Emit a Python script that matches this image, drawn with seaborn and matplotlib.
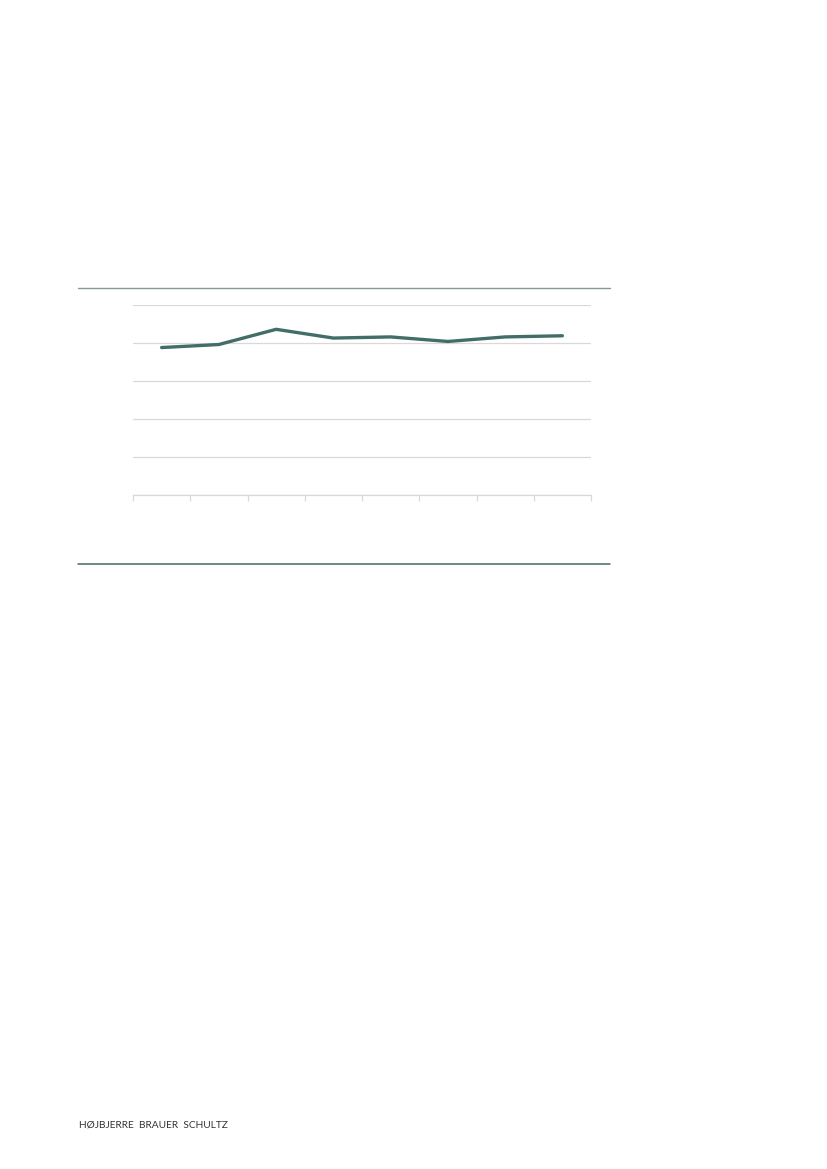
import matplotlib
matplotlib.use("Agg")
import matplotlib.pyplot as plt
import seaborn as sns
import pandas as pd
from matplotlib.lines import Line2D

# ========== data (no labels shown) ==========
periods = ["1", "2", "3", "4", "5", "6", "7", "8"]
values = [3.88, 3.96, 4.36, 4.13, 4.16, 4.04, 4.16, 4.19]
y_ticks = [0, 1, 2, 3, 4, 5]

df = pd.DataFrame({"period": periods, "value": values})

sns.set_theme(style="white")
plt.rcParams["font.family"] = ["Lato", "DejaVu Sans"]

LINE_COL = "#436e68"
GRID_COL = "#d9d9d9"

fig = plt.figure(figsize=(8.27, 11.69), dpi=100)
W, H = 827, 1169

# chart area in pixels: x 133..591, y 305..495
ax = fig.add_axes([133 / W, 1 - 495 / H, (591 - 133) / W, (495 - 305) / H])

sns.lineplot(data=df, x="period", y="value", ax=ax, color=LINE_COL,
             linewidth=2.4, sort=False)

ax.set_xlim(-0.5, len(periods) - 0.5)
ax.set_ylim(0, 5)
ax.set_yticks(y_ticks)
ax.yaxis.grid(True, color=GRID_COL, linewidth=0.9)
ax.xaxis.grid(False)
ax.set_xticks([i - 0.5 for i in range(len(periods) + 1)])
ax.set_xticklabels([])
ax.set_yticklabels([])
ax.tick_params(axis="x", bottom=True, length=4, width=0.9, color=GRID_COL)
ax.tick_params(axis="y", left=False, length=0)
ax.set_xlabel("")
ax.set_ylabel("")
for side in ["top", "right", "left"]:
    ax.spines[side].set_visible(False)
ax.spines["bottom"].set_color(GRID_COL)
ax.spines["bottom"].set_linewidth(0.9)

# horizontal rules above and below the chart box
fig.add_artist(Line2D([78 / W, 610 / W], [1 - 288.3 / H, 1 - 288.3 / H],
                      color="#7f9c95", linewidth=1.0))
fig.add_artist(Line2D([78 / W, 610 / W], [1 - 564.3 / H, 1 - 564.3 / H],
                      color="#3f6a63", linewidth=1.1))

# footer
fig.text(79 / W, 1 - 1125 / H, "HØJBJERRE  BRAUER  SCHULTZ", fontsize=7.3,
         color="#333333", va="center", ha="left")

plt.savefig("out.png", dpi=100)
